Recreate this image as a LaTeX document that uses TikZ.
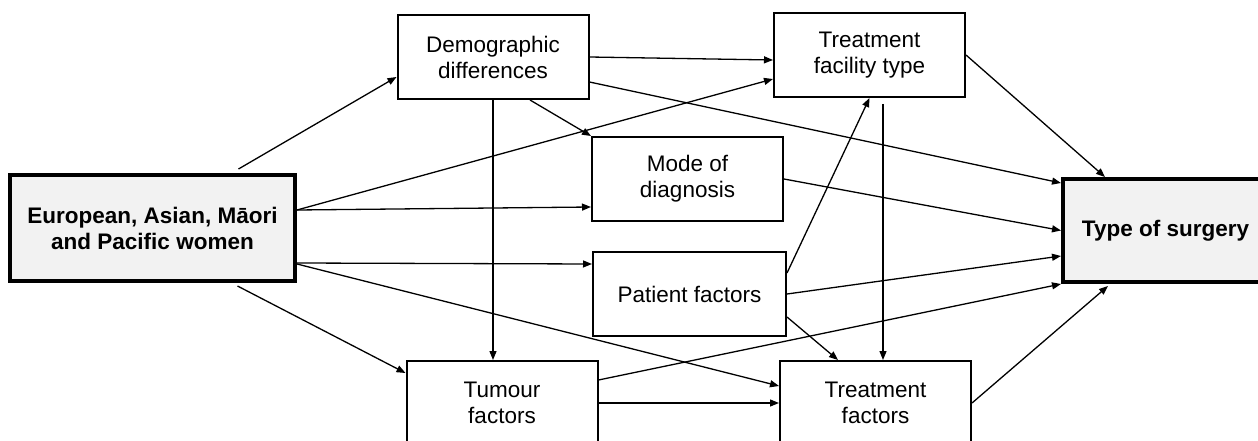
\documentclass[tikz,border=0pt]{standalone}
\usepackage{fontspec}
\setmainfont{Liberation Sans}
\usetikzlibrary{arrows.meta, positioning, calc}

\begin{document}
\begin{tikzpicture}[x=1pt, y=-1pt,
    font=\fontsize{22.5}{26}\selectfont,
    factor/.style={draw, line width=2pt, align=center, minimum width=191pt, minimum height=84pt, inner sep=2pt},
    mainbox/.style={draw, line width=4pt, fill=black!5, align=center, font=\fontsize{22.5}{26}\selectfont\bfseries},
    link/.style={-{Triangle[length=9pt, width=7pt]}, line width=1.3pt}]
  \useasboundingbox (0,0) rectangle (1258,441);

  % Exposure and outcome
  \node[mainbox, minimum width=285pt, minimum height=106pt] (eu) at (152.5, 228) {European, Asian, M\=aori\\and Pacific women};
  \node[mainbox, minimum width=205pt, minimum height=103pt] (tos) at (1165.5, 230.5) {Type of surgery};

  % Factors in between
  \node[factor] (dem)  at (493, 57)    {Demographic\\differences};
  \node[factor] (tft)  at (869.5, 55)  {Treatment\\facility type};
  \node[factor] (mode) at (687.5, 179) {Mode of\\diagnosis};
  \node[factor, minimum width=193pt] (pat) at (689.5, 294) {Patient factors};
  \node[factor] (tum)  at (502, 403)   {Tumour\\factors};
  \node[factor] (trf)  at (875.5, 403) {Treatment\\factors};

  % From the women
  \draw[link] ([xshift=86pt, yshift=4pt]eu.north) -- ([yshift=-20pt]dem.west);
  \draw[link] ([yshift=18pt]eu.east) -- ([yshift=-24pt]tft.west);
  \draw[link] ([yshift=18pt]eu.east) -- ([yshift=-28pt]mode.west);
  \draw[link] ([yshift=-35pt]eu.east) -- ([yshift=30pt]pat.west);
  \draw[link] ([yshift=-36pt]eu.east) -- ([yshift=17pt]trf.west);
  \draw[link] ([xshift=85pt, yshift=-3pt]eu.south) -- ([yshift=30pt]tum.west);

  % From demographic differences
  \draw[link] (dem.east) -- ([yshift=-5pt]tft.west);
  \draw[link] ([yshift=-25pt]dem.east) -- ([yshift=47.5pt]tos.west);
  \draw[link] (dem.south) -- (dem.south |- tum.north);
  \draw[link] ([xshift=37pt]dem.south) -- (mode.north west);

  % From treatment facility type and mode of diagnosis
  \draw[link] (tft.east) -- ([xshift=44pt]tos.north west);
  \draw[link] ([xshift=13.5pt, yshift=-6pt]tft.south) -- ([xshift=13.5pt]tft.south |- trf.north);
  \draw[link] (mode.east) -- (tos.west);

  % From patient factors
  \draw[link] ([yshift=21pt]pat.east) -- (tft.south);
  \draw[link] (pat.east) -- ([yshift=-25.5pt]tos.west);
  \draw[link] ([yshift=-23pt]pat.east) -- ([xshift=-37.5pt]trf.north);

  % From tumour and treatment factors
  \draw[link] ([yshift=23pt]tum.east) -- (tos.south west);
  \draw[link] (tum.east) -- (trf.west);
  \draw[link] (trf.east) -- ([xshift=47pt, yshift=-2pt]tos.south west);
\end{tikzpicture}
\end{document}
